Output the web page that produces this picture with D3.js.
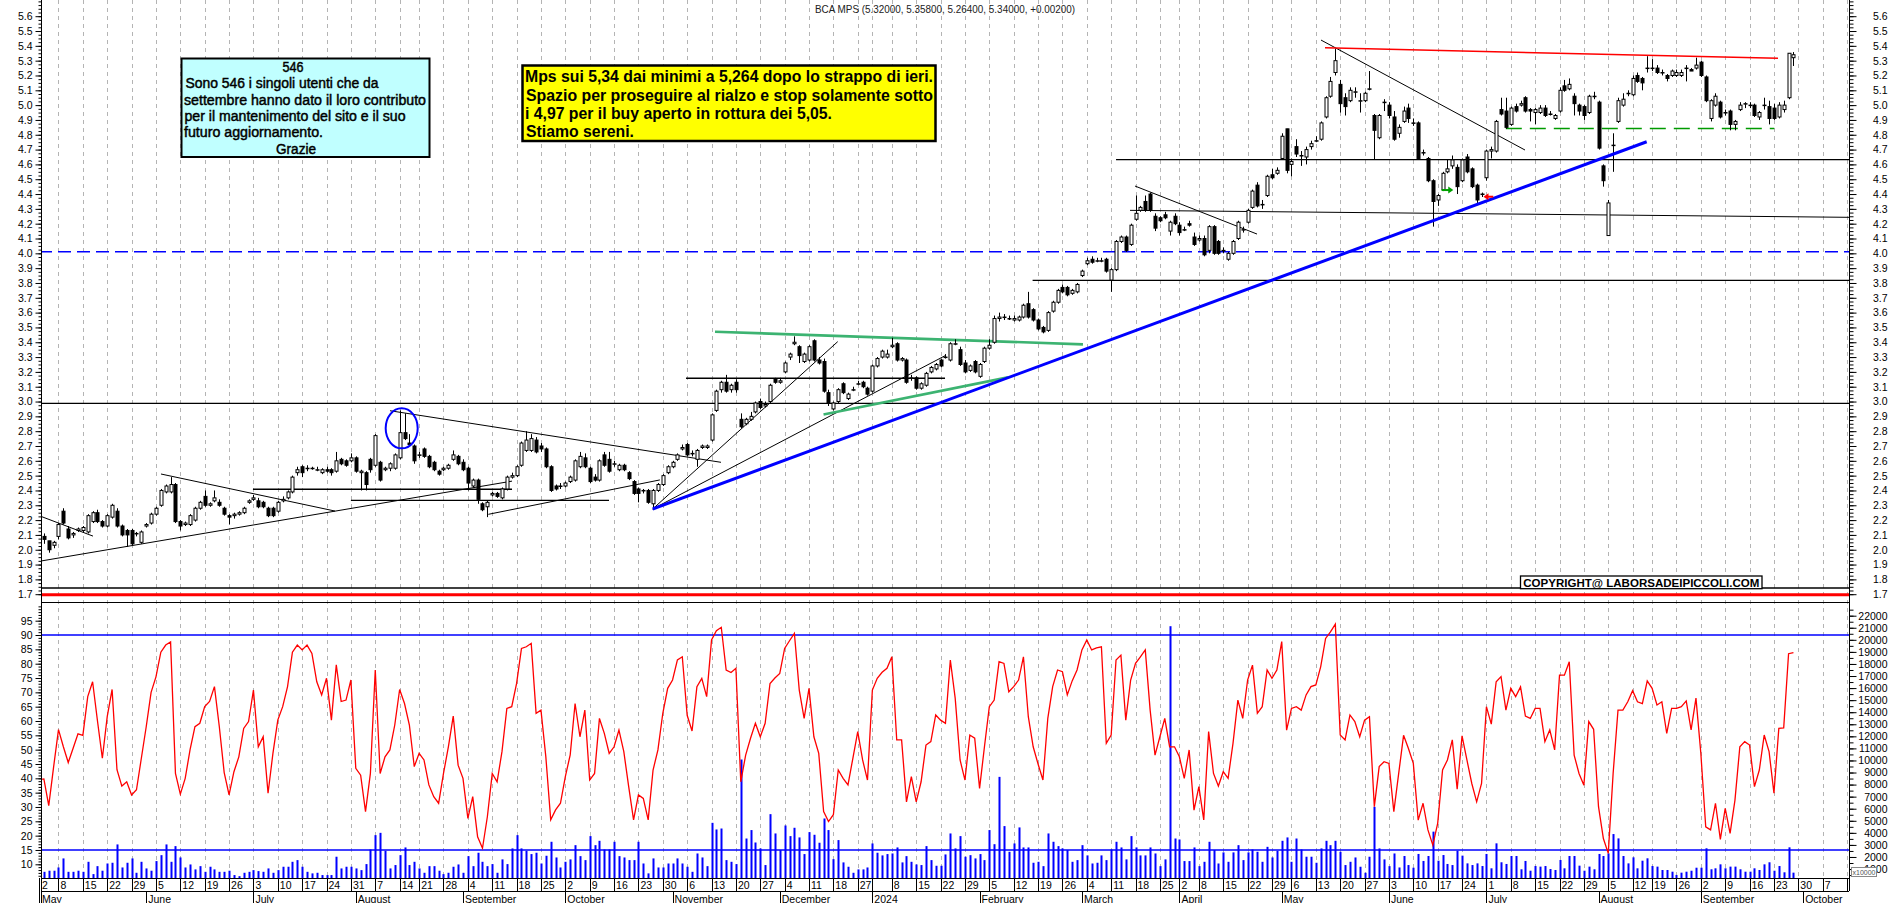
<!DOCTYPE html>
<html>
<head>
<meta charset="utf-8">
<script src="https://cdn.jsdelivr.net/npm/d3@7"></script>
<style>
html, body { margin: 0; padding: 0; background: #fff; overflow: hidden; }
svg { display: block; font-family: "Liberation Sans", Arial, sans-serif; }
</style>
</head>
<body>
<svg id="chart" width="1890" height="903"></svg>
<script>
// ---- data ----
const holidays = ['2023-08-15', '2023-12-25', '2023-12-26', '2024-01-01', '2024-03-29', '2024-04-01', '2024-05-01', '2024-08-15']
const monthNames = ['January', 'February', 'March', 'April', 'May', 'June', 'July', 'August', 'September', 'October', 'November', 'December']

// daily candles [open, high, low, close], May 2 2023 -> Dec 29 2023
const candles2023 = [
	[2.10,2.13,2.07,2.09],[2.09,2.11,2.04,2.07],[2.06,2.06,1.98,2.00],[2.03,2.06,2.01,2.05],[2.09,2.18,2.07,2.17],
	[2.26,2.28,2.17,2.18],[2.14,2.16,2.07,2.08],[2.10,2.12,2.08,2.11],[2.13,2.15,2.12,2.14],[2.13,2.16,2.12,2.15],
	[2.12,2.24,2.11,2.23],[2.19,2.26,2.18,2.25],[2.25,2.27,2.18,2.19],[2.19,2.20,2.15,2.16],[2.16,2.24,2.15,2.23],
	[2.22,2.31,2.21,2.30],[2.26,2.28,2.15,2.16],[2.16,2.17,2.09,2.10],[2.13,2.14,2.02,2.10],[2.13,2.14,2.03,2.04],
	[2.11,2.12,2.09,2.11],[2.05,2.13,2.04,2.12],
	// June
	[2.16,2.18,2.15,2.17],[2.18,2.25,2.17,2.24],[2.24,2.29,2.23,2.28],[2.30,2.41,2.29,2.40],[2.39,2.44,2.38,2.43],
	[2.39,2.49,2.38,2.44],[2.44,2.45,2.18,2.19],[2.19,2.20,2.13,2.16],[2.17,2.19,2.16,2.18],[2.17,2.24,2.16,2.23],
	[2.20,2.29,2.19,2.28],[2.28,2.33,2.27,2.32],[2.36,2.40,2.29,2.30],[2.30,2.32,2.29,2.31],[2.33,2.40,2.32,2.35],
	[2.32,2.34,2.29,2.30],[2.28,2.29,2.23,2.24],[2.23,2.24,2.17,2.22],[2.23,2.25,2.21,2.24],[2.24,2.26,2.23,2.25],
	[2.25,2.29,2.24,2.28],[2.32,2.34,2.31,2.33],
	// July
	[2.34,2.37,2.33,2.35],[2.33,2.35,2.28,2.29],[2.32,2.33,2.28,2.29],[2.28,2.29,2.22,2.23],[2.28,2.29,2.22,2.23],
	[2.26,2.33,2.25,2.32],[2.33,2.36,2.32,2.34],[2.35,2.40,2.34,2.39],[2.39,2.50,2.38,2.49],[2.52,2.56,2.50,2.54],
	[2.56,2.57,2.49,2.52],[2.55,2.57,2.53,2.55],[2.55,2.56,2.54,2.55],[2.54,2.56,2.53,2.54],[2.52,2.55,2.51,2.54],
	[2.54,2.56,2.52,2.53],[2.54,2.55,2.50,2.52],[2.53,2.66,2.52,2.60],[2.61,2.62,2.57,2.58],[2.60,2.61,2.56,2.57],
	[2.60,2.65,2.59,2.62],
	// August
	[2.62,2.63,2.52,2.53],[2.52,2.54,2.40,2.53],[2.52,2.53,2.40,2.44],[2.61,2.62,2.52,2.54],[2.57,2.78,2.56,2.77],
	[2.59,2.60,2.46,2.47],[2.54,2.56,2.53,2.55],[2.55,2.59,2.53,2.58],[2.55,2.65,2.54,2.64],[2.62,2.94,2.61,2.79],
	[2.79,2.92,2.74,2.75],[2.72,2.78,2.70,2.71],[2.70,2.71,2.58,2.60],[2.64,2.66,2.62,2.64],[2.68,2.69,2.62,2.63],
	[2.63,2.64,2.55,2.56],[2.59,2.60,2.53,2.54],[2.53,2.54,2.50,2.51],[2.54,2.56,2.53,2.55],[2.55,2.58,2.54,2.57],
	[2.61,2.67,2.60,2.64],[2.63,2.64,2.57,2.58],
	// September
	[2.59,2.61,2.53,2.54],[2.55,2.56,2.40,2.45],[2.43,2.48,2.42,2.47],[2.47,2.48,2.31,2.34],[2.31,2.32,2.26,2.27],
	[2.29,2.33,2.22,2.32],[2.37,2.39,2.36,2.38],[2.38,2.39,2.35,2.36],[2.35,2.42,2.34,2.41],[2.41,2.50,2.40,2.49],
	[2.49,2.52,2.48,2.50],[2.50,2.57,2.49,2.56],[2.57,2.73,2.56,2.72],[2.67,2.80,2.66,2.74],[2.67,2.78,2.66,2.75],
	[2.74,2.76,2.65,2.66],[2.70,2.72,2.66,2.68],[2.68,2.69,2.55,2.56],[2.56,2.57,2.39,2.40],[2.43,2.44,2.40,2.41],
	[2.43,2.45,2.41,2.43],
	// October
	[2.43,2.46,2.42,2.45],[2.46,2.50,2.45,2.49],[2.47,2.61,2.46,2.60],[2.56,2.66,2.55,2.63],[2.62,2.65,2.55,2.56],
	[2.55,2.56,2.45,2.46],[2.49,2.51,2.46,2.47],[2.47,2.61,2.46,2.60],[2.64,2.66,2.56,2.57],[2.61,2.66,2.52,2.53],
	[2.58,2.60,2.56,2.58],[2.54,2.58,2.53,2.57],[2.57,2.58,2.53,2.54],[2.52,2.53,2.47,2.48],[2.46,2.47,2.37,2.38],
	[2.41,2.42,2.32,2.38],[2.40,2.41,2.38,2.40],[2.40,2.41,2.31,2.32],[2.31,2.41,2.27,2.40],[2.40,2.45,2.39,2.44],
	[2.44,2.51,2.43,2.50],[2.52,2.57,2.51,2.56],
	// November
	[2.56,2.60,2.55,2.59],[2.61,2.65,2.60,2.64],[2.68,2.71,2.67,2.69],[2.71,2.72,2.63,2.64],[2.65,2.67,2.63,2.65],
	[2.61,2.68,2.56,2.67],[2.69,2.71,2.68,2.70],[2.69,2.71,2.68,2.70],[2.74,2.92,2.73,2.91],[2.94,3.08,2.93,3.07],
	[3.08,3.14,3.06,3.13],[3.13,3.18,3.06,3.07],[3.08,3.12,3.06,3.11],[3.13,3.15,3.06,3.08],[2.88,2.92,2.82,2.83],
	[2.85,2.89,2.84,2.88],[2.88,2.93,2.87,2.90],[2.93,3.00,2.92,2.99],[3.00,3.02,2.95,2.96],[2.97,3.00,2.96,2.98],
	[3.00,3.12,2.99,3.11],[3.15,3.16,3.12,3.13],
	// December
	[3.13,3.16,3.12,3.14],[3.20,3.27,3.19,3.26],[3.30,3.33,3.28,3.32],[3.39,3.44,3.38,3.40],[3.37,3.38,3.26,3.31],
	[3.27,3.33,3.26,3.32],[3.28,3.38,3.27,3.37],[3.41,3.42,3.27,3.28],[3.28,3.30,3.25,3.26],[3.27,3.29,3.06,3.07],
	[3.06,3.08,2.97,2.99],[2.95,3.00,2.94,2.99],[3.00,3.09,2.99,3.08],[3.12,3.13,3.05,3.06],[3.02,3.06,3.01,3.05],
	[3.08,3.10,3.07,3.08],[3.12,3.14,3.11,3.12],[3.13,3.14,3.09,3.10],[3.09,3.10,3.04,3.05]
]

// Jan 2 2024 -> Sep 27 2024
const candles2024 = [
	[3.07,3.25,3.06,3.24],[3.24,3.30,3.23,3.29],[3.30,3.35,3.29,3.34],[3.30,3.35,3.29,3.32],[3.37,3.43,3.36,3.38],
	[3.39,3.40,3.27,3.28],[3.28,3.30,3.27,3.29],[3.28,3.29,3.12,3.13],[3.16,3.18,3.14,3.16],[3.16,3.17,3.08,3.09],
	[3.09,3.13,3.08,3.12],[3.11,3.20,3.10,3.19],[3.20,3.24,3.19,3.23],[3.22,3.26,3.21,3.25],[3.28,3.29,3.23,3.24],
	[3.30,3.32,3.29,3.30],[3.28,3.40,3.27,3.39],[3.39,3.42,3.38,3.39],[3.35,3.37,3.24,3.25],[3.26,3.28,3.19,3.20],
	[3.21,3.25,3.20,3.24],[3.27,3.28,3.19,3.20],
	// February
	[3.17,3.26,3.16,3.25],[3.27,3.37,3.26,3.36],[3.36,3.42,3.35,3.38],[3.40,3.58,3.39,3.56],[3.56,3.60,3.54,3.57],
	[3.57,3.59,3.55,3.57],[3.56,3.58,3.55,3.56],[3.55,3.58,3.54,3.56],[3.55,3.58,3.54,3.57],[3.57,3.66,3.56,3.65],
	[3.66,3.74,3.56,3.57],[3.62,3.63,3.54,3.55],[3.55,3.56,3.48,3.49],[3.50,3.51,3.46,3.47],[3.48,3.61,3.47,3.60],
	[3.61,3.68,3.60,3.67],[3.67,3.76,3.66,3.75],[3.77,3.79,3.73,3.74],[3.77,3.78,3.71,3.72],[3.73,3.76,3.72,3.75],
	[3.74,3.80,3.73,3.79],
	// March
	[3.85,3.89,3.84,3.88],[3.93,3.97,3.92,3.95],[3.96,3.98,3.93,3.94],[3.95,3.97,3.94,3.95],[3.95,3.97,3.94,3.95],
	[3.96,3.97,3.87,3.88],[3.82,3.90,3.74,3.89],[3.89,4.09,3.88,4.08],[4.08,4.12,4.07,4.11],[4.11,4.12,4.01,4.02],
	[4.06,4.20,4.05,4.19],[4.23,4.39,4.22,4.27],[4.29,4.32,4.28,4.31],[4.35,4.39,4.28,4.29],[4.40,4.41,4.28,4.29],
	[4.25,4.27,4.15,4.17],[4.24,4.25,4.21,4.22],[4.26,4.28,4.23,4.24],[4.15,4.22,4.12,4.21],[4.25,4.27,4.19,4.20],
	// April
	[4.19,4.21,4.12,4.14],[4.16,4.18,4.15,4.16],[4.20,4.22,4.18,4.19],[4.11,4.14,4.05,4.06],[4.09,4.12,4.08,4.10],
	[4.10,4.12,3.98,3.99],[4.02,4.19,4.00,4.18],[4.18,4.19,3.99,4.00],[4.08,4.09,3.99,4.00],[4.02,4.04,4.00,4.02],
	[3.96,4.01,3.95,4.00],[4.00,4.09,3.99,4.08],[4.10,4.22,4.09,4.21],[4.16,4.18,4.14,4.16],[4.21,4.30,4.20,4.29],
	[4.31,4.43,4.30,4.42],[4.46,4.48,4.31,4.32],[4.33,4.36,4.30,4.33],[4.39,4.53,4.38,4.52],[4.53,4.57,4.50,4.51],
	[4.54,4.58,4.53,4.56],
	// May
	[4.64,4.81,4.63,4.79],[4.84,4.84,4.54,4.56],[4.60,4.64,4.52,4.62],[4.72,4.77,4.65,4.67],[4.66,4.69,4.59,4.66],
	[4.65,4.72,4.60,4.70],[4.72,4.76,4.70,4.74],[4.76,4.79,4.75,4.76],[4.77,4.89,4.76,4.88],[4.92,5.06,4.91,5.05],
	[5.06,5.19,5.05,5.16],[5.22,5.38,5.20,5.30],[5.14,5.17,4.95,5.01],[5.05,5.08,4.93,4.99],[5.03,5.12,5.02,5.10],
	[5.09,5.12,5.05,5.09],[5.03,5.08,4.95,5.03],[5.03,5.09,5.02,5.08],[5.11,5.23,5.10,5.11],[4.93,4.94,4.63,4.83],
	[4.78,4.94,4.77,4.93],[5.02,5.04,4.96,5.02],
	// June
	[5.00,5.02,4.91,4.93],[4.92,4.96,4.76,4.77],[4.81,4.87,4.78,4.85],[4.89,4.99,4.88,4.96],[4.98,5.01,4.88,4.91],
	[4.88,4.91,4.86,4.88],[4.88,4.89,4.63,4.64],[4.68,4.70,4.66,4.68],[4.64,4.65,4.48,4.49],[4.49,4.50,4.18,4.35],
	[4.36,4.40,4.32,4.39],[4.43,4.55,4.42,4.54],[4.55,4.63,4.54,4.57],[4.59,4.66,4.57,4.63],[4.58,4.60,4.40,4.45],
	[4.49,4.64,4.48,4.63],[4.65,4.67,4.54,4.55],[4.57,4.58,4.44,4.45],[4.46,4.47,4.34,4.36],[4.40,4.41,4.38,4.40],
	// July
	[4.51,4.70,4.49,4.69],[4.69,4.72,4.64,4.70],[4.69,4.90,4.68,4.89],[4.97,5.05,4.93,4.94],[4.96,5.05,4.84,4.85],
	[4.87,4.99,4.86,4.98],[4.99,5.01,4.95,4.96],[5.00,5.03,4.99,5.01],[5.05,5.06,4.95,4.96],[4.97,4.98,4.89,4.96],
	[4.95,4.98,4.87,4.97],[4.95,5.00,4.94,4.98],[4.98,5.00,4.92,4.93],[4.94,4.96,4.93,4.94],[4.91,4.94,4.90,4.93],
	[4.96,5.12,4.95,5.10],[5.13,5.17,5.09,5.10],[5.11,5.18,5.10,5.14],[5.06,5.08,4.93,5.01],[5.00,5.01,4.93,4.96],
	[4.99,5.00,4.90,4.93],[4.95,5.07,4.94,5.06],[5.06,5.09,5.04,5.06],
	// August
	[5.02,5.03,4.70,4.71],[4.59,4.60,4.45,4.49],[4.12,4.36,4.12,4.34],[4.73,4.81,4.55,4.73],[4.89,5.05,4.88,5.03],
	[5.00,5.08,4.99,5.04],[5.08,5.10,5.06,5.08],[5.07,5.20,5.06,5.18],[5.20,5.22,5.15,5.16],[5.18,5.19,5.10,5.15],
	[5.25,5.33,5.22,5.25],[5.25,5.31,5.23,5.25],[5.25,5.27,5.21,5.22],[5.22,5.24,5.20,5.22],[5.20,5.21,5.16,5.18],
	[5.20,5.24,5.19,5.23],[5.20,5.24,5.19,5.22],[5.20,5.24,5.19,5.22],[5.25,5.27,5.16,5.25],[5.24,5.25,5.23,5.23],
	[5.25,5.32,5.24,5.27],
	// September
	[5.29,5.30,5.19,5.20],[5.19,5.20,5.02,5.03],[4.91,5.04,4.89,5.03],[5.00,5.08,4.99,5.06],[5.02,5.03,4.91,4.92],
	[4.95,4.97,4.93,4.95],[4.96,4.97,4.83,4.87],[4.87,4.90,4.83,4.89],[4.97,5.02,4.96,5.00],[5.01,5.02,4.98,5.01],
	[5.00,5.02,4.98,5.00],[5.00,5.01,4.92,4.93],[4.92,4.96,4.90,4.95],[5.00,5.05,4.97,5.00],[4.99,5.03,4.87,4.91],
	[4.98,5.01,4.90,4.91],[4.92,5.02,4.91,5.00],[4.97,5.03,4.95,5.00],[5.05,5.35,5.04,5.35],[5.32,5.358,5.264,5.34]
]

// oscillator (red line, left scale of the lower panel)
const osc2023 = [
	39.5,39.8,30.5,44,57,51,45.5,50.5,55.5,55, 68.5,73.7,60,47,61.5,71,43,37.3,38.8,34.2,
	36,47,58,70,75.4,84,86.5,87.6,41.7,34.5, 40,50,58,59.2,65,66.8,72,58,42,34.2,
	42.3,47.5,57.4,59.8,70.8,51,54.5,34.8,48.7,60.3, 65,72,84,86.5,84.8,86.5,83.6,73.7,69.1,74.9,
	60.3,79.6,66.8,67.3,74.3,43.5,41.1,28.4,41.7,77.8, 41.7,47.5,49.9,58.6,71,66.1,58.6,44.1,48.7,46.4,
	37.7,33.6,31.3,41.7,51,61.7,44.6,40,26,33.6, 19.6,15.6,26.6,41.7,38.8,49.3,64.4,65,73.1,85.3,
	85.9,87.1,62.7,63.8,47.5,25.5,29,31.3,40.6,48.2, 66.1,54.5,63.8,39.4,41.7,60.9,55.7,48.7,51,56.8,
	49.3,37.1,25.5,34.2,33,25.5,42.9,49.9,62.7,71.4, 74.3,81.3,82.4,62,56.5,72,74.9,68.5,88.3,91.5,
	92.7,77.8,76.9,78.4,38.8,48.1,54,59.2,54.5,59.2, 73.1,75,76.6,85.3,88,90.6,70.8,60.9,71.4,54.5,
	48.7,28.4,24.9,27.3,42.9,40,37.7,47,56.3,46.4, 39.4
]
const osc2024 = [
	70.8,74.9,77,78.4,82.4,53.4,53.4,31.8,40.6,31.8, 38.8,51.6,52.8,62.1,60.3,59.2,81.3,67.9,46.4,39.4,
	55.1,54,36.5,51,65,67.3,80.7,80.1,70.2,72, 74.3,82.4,61.5,51,45,39.4,60.9,72,77.8,77.2,
	69.1,74,77.8,84.8,88.3,84.8,85.5,85.9,52.2,55.1, 81.3,83,60.3,74.3,80.1,82.4,84.8,63.8,48.1,54.5,
	60.9,51,51,47.5,40,49.9,28.9,37.1,25.5,56.3, 41.7,37.3,42.3,40,52.2,67.3,60.9,74.3,79.5,62.7,
	65,77.8,74.9,77.8,87.7,56.8,64.4,65,63.8,69.1, 72,72.6,79,88.8,91.1,93.8,55.1,53.4,62.1,59.8,
	54.5,60.3,61.5,30.1,44.1,45.8,45.2,28.4,41.7,55, 50.4,45.2,25.4,31.3,22,16.7,24.3,42.9,46.4,53.4,
	36.2,54.8,46.4,38.2,31.8,38.2,65,58.9,73.7,75.5, 63.8,71.4,68.5,71.9,61.7,60.9,64.4,64.4,52.8,56.9,
	49.9,76,76,80.7,48.1,41.7,37.6,59.8,57.1,30.1, 19,13.8,41.7,63.8,63.8,66.7,70.6,66.7,66.1,74,
	71.4,65.6,66.7,55.7,64.4,64.4,65,67,56.9,68, 48.7,23.1,22,31.3,18.7,29.5,20.8,32.4,51,52.8,
	51.6,37.1,42.9,55.1,49.3,34.8,57.4,57.6,83.5,83.9
]

// volume bars (right scale of the lower panel)
const vol2023 = [
	700,770,860,860,1130,1880,770,770,860,770, 1600,580,1240,860,1460,1520,3040,1130,1520,1880,
	690,1600,1050,860,1660,2150,3040,1600,2900,1960, 1130,1380,970,1240,770,1190,970,770,770,860,
	500,410,690,770,910,830,770,1050,690,910, 1190,1190,1600,1740,1190,770,640,690,500,500,
	500,2020,1050,1190,1190,1050,910,1410,2620,3810, 4000,2510,1050,1330,2150,2790,1330,1600,1050,690,
	1240,1240,860,580,690,1190,1380,690,2070,1240, 2350,1600,1240,1410,690,1800,1410,2710,3810,2710,
	2510,2240,2350,1460,2100,3260,1960,1130,1600,1800, 2980,2070,1740,3730,2980,3340,2620,2620,3260,2070,
	1960,1740,1740,3260,1460,640,1880,1130,1130,1460, 1460,1880,1460,1190,770,2290,1960,1240,4830,4280,
	4360,1740,1600,1410,10080,3530,4230,3200,2710,1330, 5550,3950,2570,4610,3730,4420,3620,2240,4060,3840,
	3180,5190,4230,1820,3400,1550,1190,690,970,970, 1130
]
const vol2024 = [
	3120,2350,2130,2240,2290,2790,1550,2070,1600,1380, 1330,2900,1740,1270,1270,2210,3950,2710,3730,2020,
	2150,1880,2240,1740,4230,3060,8640,4560,2430,3120, 4450,2790,2790,1520,1600,1240,3950,3260,2900,2710,
	2570,1600,1740,2980,2130,1460,1520,2130,1740,2620, 3260,2790,1800,3730,2790,2130,2130,2790,2290,1240,
	1800,21130,3530,3450,1660,1660,2790,1240,1600,3260, 2570,1460,2380,1600,2380,2980,1740,2380,2620,2430,
	1600,2840,1960,2510,3340,3620,1600,3530,2620,2020, 2020,1520,2710,3340,2980,3340,2430,1330,1600,1960,
	1190,690,2020,6160,2710,1800,1240,2290,1130,2080, 1330,1110,2250,1670,2080,4100,1690,2160,1420,1330,
	2520,2110,1470,1330,1470,1250,2250,1060,3130,1560, 1420,2080,2080,980,1670,860,1250,1200,1250,1000,
	920,1750,1060,2080,2080,1280,860,1200,980,2250, 2080,2300,3900,3540,2080,1470,1970,1060,1690,1890,
	1250,1200,920,920,780,510,700,780,860,1110, 1110,2720,980,1060,1390,1060,1200,1200,980,780,
	780,1060,920,1390,1560,860,1250,730,2800,700
]

// drawn studies, in [day index, price] pairs
const thinTrends = [
	[0.41, 1.924, 97.06, 2.463],
	[25.03, 2.511, 60.74, 2.261],
	[0.41, 2.225, 11.08, 2.092],
	[72.02, 2.938, 139.94, 2.590],
	[92.2, 2.239, 127.4, 2.471],
	[125.93, 2.275, 163.89, 3.404],
	[125.93, 2.275, 185.91, 3.309],
	[224.89, 4.454, 249.93, 4.130],
	[263.06, 5.439, 304.92, 4.697],
	[223.87, 4.290, 371.4, 4.243]
]
const blueTrend = [[125.93, 2.275, 329.89, 4.753]]
const greenTrends = [
	[138.71, 3.471, 214.22, 3.386],
	[160.98, 2.912, 198.83, 3.163]
]
const redTrend = [[263.88, 5.387, 356.83, 5.316]]
// horizontal levels [price, from day, to day]
const blackLevels = [
	[2.988, 0, 371.4], [1.742, 0, 371.4], [4.632, 221, 371.4], [3.818, 203.88, 371.4],
	[2.408, 43.9, 97.06], [2.333, 64.0, 116.96], [3.157, 132.76, 185.91]
]
const redLevel = [1.696, 0, 371.4]
const blueDashLevel = [4.01, 0, 371.4]
const greenDashLevel = [4.843, 300.98, 356.06]
const oscLevels = [90, 15]

const priceTicks = d3.range(17, 57).map((v) => v / 10)
const oscTicks = d3.range(10, 100, 5)
const volTicks = d3.range(1000, 23000, 1000)

// ---- calendar ----
const days = []
{
	const d = new Date(Date.UTC(2023, 4, 2))
	while (days.length < 372) {
		const dow = d.getUTCDay()
		const iso = d.toISOString().slice(0, 10)
		if (dow !== 0 && dow !== 6 && !holidays.includes(iso)) days.push(new Date(d))
		d.setUTCDate(d.getUTCDate() + 1)
	}
}
const candles = candles2023.concat(candles2024).map((r, i) => ({ i, o: r[0], h: r[1], l: r[2], c: r[3] }))
const osc = osc2023.concat(osc2024)
const vol = vol2023.concat(vol2024)

const weekStarts = days.map((d, i) => i).filter((i) => {
	if (i === 0) return true
	const a = days[i - 1], b = days[i]
	return b.getUTCDay() <= a.getUTCDay() || (b - a) > 4 * 864e5
})
const monthStarts = days.map((d, i) => i).filter((i) => i === 0 || days[i].getUTCMonth() !== days[i - 1].getUTCMonth())
const newYear = (i) => i > 0 && days[i - 1].getUTCFullYear() !== days[i].getUTCFullYear()

// ---- layout ----
const L = 41, R = 1849
const x = d3.scaleLinear().domain([0, 371.4]).range([39, 1849])
const yP = d3.scaleLinear().domain([1.7, 5.6]).range([594.2, 16.2])
const yO = d3.scaleLinear().domain([10, 95]).range([864.3, 620.7])
const yV = d3.scaleLinear().domain([0, 22000]).range([881.1, 615.7])

const svg = d3.select('#chart')
svg.append('rect').attr('width', 1890).attr('height', 903).attr('fill', '#fff')

const defs = svg.append('defs')
defs.append('clipPath').attr('id', 'clipP').append('rect').attr('x', L).attr('y', 0).attr('width', R - L).attr('height', 602)
defs.append('clipPath').attr('id', 'clipO').append('rect').attr('x', L).attr('y', 602).attr('width', R - L).attr('height', 276)

// weekly dashed grid
const px = (i) => Math.round(x(i)) + 0.5
svg.append('g')
	.selectAll('line')
	.data(weekStarts.filter((i) => x(i) > L + 1 && x(i) < R - 1))
	.join('line')
	.attr('x1', px).attr('x2', px)
	.attr('y1', 0).attr('y2', 878)
	.attr('stroke', '#b4b4b4')
	.attr('stroke-dasharray', '4,4')

// ---- price panel ----
const gp = svg.append('g').attr('clip-path', 'url(#clipP)')

const levelLine = (g, lv, color, width, dash) => {
	g.append('line')
		.attr('x1', x(lv[1])).attr('x2', x(lv[2]))
		.attr('y1', yP(lv[0])).attr('y2', yP(lv[0]))
		.attr('stroke', color).attr('stroke-width', width)
		.attr('stroke-dasharray', dash || null)
}
blackLevels.forEach((lv) => levelLine(gp, lv, '#000', 1.3))
levelLine(gp, redLevel, '#ff0000', 3)
levelLine(gp, blueDashLevel, '#0000ff', 1.5, '13,6')
levelLine(gp, greenDashLevel, '#009a00', 1.5, '16,8')

const trend = (g, data, color, width) => {
	g.append('g')
		.selectAll('line')
		.data(data)
		.join('line')
		.attr('x1', (d) => x(d[0])).attr('y1', (d) => yP(d[1]))
		.attr('x2', (d) => x(d[2])).attr('y2', (d) => yP(d[3]))
		.attr('stroke', color).attr('stroke-width', width)
}
trend(gp, thinTrends, '#000', 1)
trend(gp, greenTrends, '#3cb371', 2.6)
trend(gp, redTrend, '#ff0000', 1.5)

// candles
const gc = gp.append('g')
gc.selectAll('line')
	.data(candles)
	.join('line')
	.attr('x1', (d) => px(d.i)).attr('x2', (d) => px(d.i))
	.attr('y1', (d) => yP(d.h)).attr('y2', (d) => yP(d.l))
	.attr('stroke', '#000')
gc.selectAll('rect')
	.data(candles)
	.join('rect')
	.attr('x', (d) => px(d.i) - 1.5)
	.attr('width', 3)
	.attr('y', (d) => yP(Math.max(d.o, d.c)))
	.attr('height', (d) => Math.max(0.5, Math.abs(yP(d.o) - yP(d.c))))
	.attr('fill', (d) => (d.c >= d.o ? '#fff' : '#000'))
	.attr('stroke', '#000')
	.attr('stroke-width', 1)

trend(gp, blueTrend, '#0000ff', 3)

// circle on the August 2023 spike
gp.append('ellipse')
	.attr('cx', x(74.42)).attr('cy', yP(2.819))
	.attr('rx', 16).attr('ry', 20)
	.attr('fill', 'none').attr('stroke', '#0000ff').attr('stroke-width', 2)

// small arrows
const arrow = (i1, i2, v, color) => {
	const xa = x(i1), xb = x(i2), yy = yP(v), dir = Math.sign(xb - xa)
	gp.append('line').attr('x1', xa).attr('x2', xb - dir * 3).attr('y1', yy).attr('y2', yy)
		.attr('stroke', color).attr('stroke-width', 2)
	gp.append('path')
		.attr('d', `M${xb},${yy} L${xb - dir * 5},${yy - 3.5} L${xb - dir * 5},${yy + 3.5} Z`)
		.attr('fill', color)
}
arrow(287.8, 290.2, 4.427, '#00a000')
arrow(298.4, 296.4, 4.382, '#ff0000')

// ---- lower panel ----
const go = svg.append('g').attr('clip-path', 'url(#clipO)')
go.append('g')
	.selectAll('rect')
	.data(vol.map((v, i) => ({ i, v })))
	.join('rect')
	.attr('x', (d) => Math.round(x(d.i)) - 0.5)
	.attr('width', 2)
	.attr('y', (d) => yV(d.v))
	.attr('height', (d) => Math.max(0, 878 - yV(d.v)))
	.attr('fill', '#0000ff')
go.append('g')
	.selectAll('line')
	.data(oscLevels)
	.join('line')
	.attr('x1', L).attr('x2', R)
	.attr('y1', (d) => yO(d)).attr('y2', (d) => yO(d))
	.attr('stroke', '#0000ff').attr('stroke-width', 1.5)
go.append('path')
	.datum(osc)
	.attr('d', d3.line().x((d, i) => x(i)).y((d) => yO(d)))
	.attr('fill', 'none')
	.attr('stroke', '#ff0000')
	.attr('stroke-width', 1.3)

// ---- frame and axes ----
const frame = svg.append('g').attr('stroke', '#000').attr('stroke-width', 1)
frame.append('line').attr('x1', L + 0.5).attr('x2', L + 0.5).attr('y1', 0).attr('y2', 903)
frame.append('line').attr('x1', R + 0.5).attr('x2', R + 0.5).attr('y1', 0).attr('y2', 891)
frame.append('line').attr('x1', L).attr('x2', R).attr('y1', 602.5).attr('y2', 602.5)
frame.append('line').attr('x1', L).attr('x2', R).attr('y1', 878.5).attr('y2', 878.5)
frame.append('line').attr('x1', L).attr('x2', R).attr('y1', 891.5).attr('y2', 891.5)

const styleAxis = (g) => {
	g.select('.domain').remove()
	g.selectAll('text').attr('font-size', 10.5).attr('font-family', '"Liberation Sans", Arial, sans-serif').attr('fill', '#000')
}
const minorP = d3.range(68, 230).map((v) => v / 40)
svg.append('g').attr('transform', `translate(${L + 0.5},0)`)
	.call(d3.axisLeft(yP).tickValues(minorP).tickSize(3).tickFormat('')).call(styleAxis)
svg.append('g').attr('transform', `translate(${L + 0.5},0)`)
	.call(d3.axisLeft(yP).tickValues(priceTicks).tickSize(6).tickPadding(3).tickFormat(d3.format('.1f'))).call(styleAxis)
svg.append('g').attr('transform', `translate(${R + 0.5},0)`)
	.call(d3.axisRight(yP).tickValues(minorP).tickSize(4).tickFormat('')).call(styleAxis)
svg.append('g').attr('transform', `translate(${R + 0.5},0)`)
	.call(d3.axisRight(yP).tickValues(priceTicks).tickSize(7).tickFormat(d3.format('.1f'))).call(styleAxis)
	.call((g) => g.selectAll('text').attr('x', 1887 - R).attr('text-anchor', 'end'))

svg.append('g').attr('transform', `translate(${L + 0.5},0)`)
	.call(d3.axisLeft(yO).tickValues(d3.range(6, 101)).tickSize(3).tickFormat('')).call(styleAxis)
svg.append('g').attr('transform', `translate(${L + 0.5},0)`)
	.call(d3.axisLeft(yO).tickValues(oscTicks).tickSize(6).tickPadding(3)).call(styleAxis)
svg.append('g').attr('transform', `translate(${R + 0.5},0)`)
	.call(d3.axisRight(yV).tickValues(d3.range(500, 23000, 500)).tickSize(4).tickFormat('')).call(styleAxis)
svg.append('g').attr('transform', `translate(${R + 0.5},0)`)
	.call(d3.axisRight(yV).tickValues(volTicks).tickSize(7).tickFormat(d3.format('d'))).call(styleAxis)
	.call((g) => g.selectAll('text').attr('x', 1887 - R).attr('text-anchor', 'end'))

// multiplier box drawn over the lowest volume label, as in the source
svg.append('rect').attr('x', 1851.5).attr('y', 867.5).attr('width', 25).attr('height', 9)
	.attr('fill', '#fff').attr('stroke', '#888')
svg.append('text').attr('x', 1864).attr('y', 875).attr('text-anchor', 'middle')
	.attr('font-size', 7).attr('fill', '#555').text('x10000')

// date axis
const dateAxis = svg.append('g').attr('font-size', 10.5).attr('fill', '#000')
dateAxis.selectAll('line.wk')
	.data(weekStarts.filter((i) => x(i) < R))
	.join('line')
	.attr('x1', px).attr('x2', px)
	.attr('y1', 878).attr('y2', 891)
	.attr('stroke', '#000')
dateAxis.selectAll('text.wk')
	.data(weekStarts.filter((i) => x(i) < R - 8 && !newYear(i)))
	.join('text')
	.attr('x', (i) => Math.max(L + 1, x(i) + 2))
	.attr('y', 888.5)
	.text((i) => days[i].getUTCDate())
dateAxis.selectAll('line.mo')
	.data(monthStarts.filter((i) => x(i) < R))
	.join('line')
	.attr('x1', px).attr('x2', px)
	.attr('y1', 891).attr('y2', 903)
	.attr('stroke', '#000')
dateAxis.selectAll('text.mo')
	.data(monthStarts.filter((i) => x(i) < R - 8))
	.join('text')
	.attr('x', (i) => Math.max(L + 1, x(i) + 2))
	.attr('y', 902.5)
	.text((i) => (newYear(i) ? String(days[i].getUTCFullYear()) : monthNames[days[i].getUTCMonth()]))

// title
svg.append('text')
	.attr('x', 945).attr('y', 12.5)
	.attr('text-anchor', 'middle')
	.attr('font-size', 10.5)
	.attr('fill', '#222')
	.attr('textLength', 260).attr('lengthAdjust', 'spacingAndGlyphs')
	.text('BCA MPS (5.32000, 5.35800, 5.26400, 5.34000, +0.00200)')

// ---- annotation boxes ----
const note = (box, fill, strokeW, lines, font) => {
	const g = svg.append('g')
	g.append('rect')
		.attr('x', box[0]).attr('y', box[1]).attr('width', box[2] - box[0]).attr('height', box[3] - box[1])
		.attr('fill', fill).attr('stroke', '#000').attr('stroke-width', strokeW)
	g.selectAll('text')
		.data(lines)
		.join('text')
		.attr('x', (d) => d.x)
		.attr('y', (d) => d.y)
		.attr('text-anchor', (d) => d.anchor || 'start')
		.attr('font-size', font.size)
		.attr('font-weight', font.weight)
		.attr('stroke', font.halo ? '#000' : null)
		.attr('stroke-width', font.halo || null)
		.attr('textLength', (d) => d.w)
		.attr('lengthAdjust', 'spacingAndGlyphs')
		.text((d) => d.t)
}
note([181.5, 58.5, 429.5, 157], '#c0ffff', 2, [
	{ t: '546', x: 293, y: 71.5, w: 21, anchor: 'middle' },
	{ t: 'Sono 546 i singoli utenti che da', x: 185.5, y: 88, w: 193 },
	{ t: 'settembre hanno dato il loro contributo', x: 184, y: 104.7, w: 242 },
	{ t: 'per il mantenimento  del sito e il suo', x: 184.5, y: 121.4, w: 221 },
	{ t: 'futuro aggiornamento.', x: 184, y: 137.4, w: 139 },
	{ t: 'Grazie', x: 296, y: 154, w: 40, anchor: 'middle' }
], { size: 14, weight: 'normal', halo: 0.45 })

note([522.5, 65.5, 935.5, 141], '#ffff00', 2.5, [
	{ t: 'Mps sui 5,34 dai minimi a 5,264 dopo lo strappo di ieri.', x: 525, y: 81.7, w: 408 },
	{ t: 'Spazio per proseguire al rialzo e stop solamente sotto', x: 526, y: 100.7, w: 407 },
	{ t: 'i 4,97 per il buy aperto in rottura dei 5,05.', x: 525, y: 119.3, w: 307 },
	{ t: 'Stiamo sereni.', x: 526, y: 137.3, w: 108 }
], { size: 16.5, weight: 'bold' })

note([1520.5, 576, 1762, 588.7], '#fff', 1.3, [
	{ t: 'COPYRIGHT@ LABORSADEIPICCOLI.COM', x: 1641.3, y: 586.6, w: 236, anchor: 'middle' }
], { size: 11, weight: 'bold' })
</script>
</body>
</html>
